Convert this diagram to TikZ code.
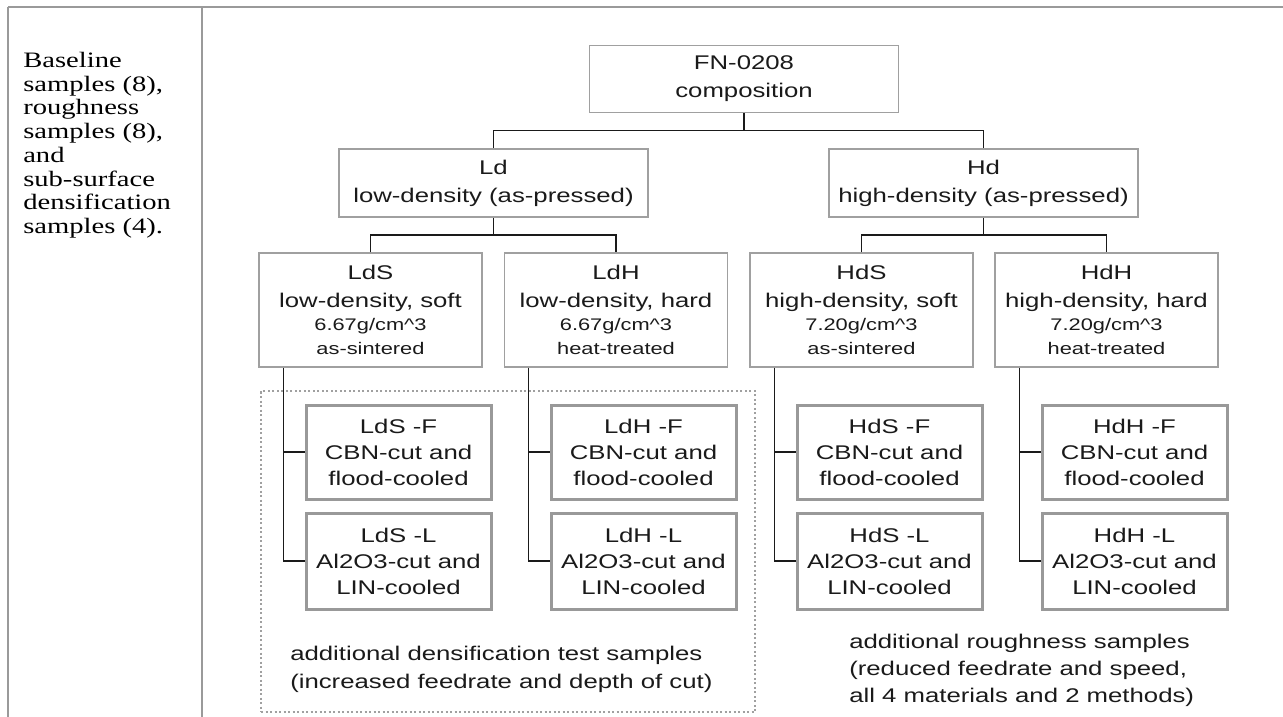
\documentclass[tikz,border=0pt]{standalone}
\usepackage{fontspec}
\usetikzlibrary{calc}
\newfontfamily\diagf[FakeStretch=1.3]{Liberation Sans}
\newfontfamily\leftf[FakeStretch=1.3]{Liberation Serif}
\newdimen\pxu \pxu=0.75pt
\definecolor{boxgray}{HTML}{A0A0A0}
\definecolor{subgray}{HTML}{999999}
\definecolor{rulegray}{HTML}{9A9A9A}
\definecolor{inkc}{HTML}{1A1A1A}
\newcommand{\smallf}{\diagf\fontsize{12.6pt}{18pt}\selectfont}
\begin{document}
\begin{tikzpicture}[x=0.75pt,y=-0.75pt,
  rule/.style={draw=rulegray, line width=2\pxu},
  conn/.style={draw=inkc, line width=1.5\pxu},
  mainbox/.style={draw=boxgray, line width=1.5\pxu, inner sep=0, align=center, text=inkc,
    font=\diagf\fontsize{14.85pt}{21pt}\selectfont},
  topbox/.style={mainbox, minimum width=309\pxu, minimum height=67\pxu},
  matbox/.style={mainbox, minimum width=223\pxu, minimum height=114\pxu,
    font=\diagf\fontsize{14.85pt}{20.25pt}\selectfont},
  subbox/.style={draw=subgray, line width=3\pxu, inner sep=0, align=center, text=inkc,
    minimum width=185\pxu, font=\diagf\fontsize{14.85pt}{19.5pt}\selectfont},
  dotbox/.style={draw=boxgray, line width=2\pxu, dash pattern=on 2\pxu off 2.5\pxu},
  note/.style={inner sep=0, align=left, text=inkc},
]
\useasboundingbox (0,0) rectangle (1283,717);
% outer table rules
\draw[rule] (8,7.5) -- (1283,7.5);
\draw[rule] (8,7.5) -- (8,717);
\draw[rule] (202,7.5) -- (202,717);

% left cell text
\node[note, anchor=north west, text=black, font=\leftf\fontsize{16.5pt}{17.8pt}\selectfont] (cell) at (23,52)
  {Baseline\\samples (8),\\roughness\\samples (8),\\and\\sub-surface\\densification\\samples (4).};

% tree
\node[topbox] (fn) at (744,79) {FN-0208\\composition};
\node[topbox, minimum height=68\pxu] (ld) at (493.5,183) {Ld\\low-density (as-pressed)};
\node[topbox, minimum height=68\pxu] (hd) at (983.5,183) {Hd\\high-density (as-pressed)};

\node[matbox] (lds) at (370.5,310) {LdS\\[1\pxu]low-density, soft\\[-4\pxu]{\smallf 6.67g/cm\textasciicircum 3}\\[-3\pxu]{\smallf as-sintered}};
\node[matbox] (ldh) at (616,310) {LdH\\[1\pxu]low-density, hard\\[-4\pxu]{\smallf 6.67g/cm\textasciicircum 3}\\[-3\pxu]{\smallf heat-treated}};
\node[matbox] (hds) at (861.5,310) {HdS\\[1\pxu]high-density, soft\\[-4\pxu]{\smallf 7.20g/cm\textasciicircum 3}\\[-3\pxu]{\smallf as-sintered}};
\node[matbox] (hdh) at (1106.5,310) {HdH\\[1\pxu]high-density, hard\\[-4\pxu]{\smallf 7.20g/cm\textasciicircum 3}\\[-3\pxu]{\smallf heat-treated}};

% dotted group
\node[dotbox, minimum width=494\pxu, minimum height=321\pxu, inner sep=0] (dens) at (508,551.5) {};

\foreach \n/\t/\x in {lds/LdS/398.5, ldh/LdH/643.5, hds/HdS/889.5, hdh/HdH/1134.5}{
  \node[subbox, minimum height=94\pxu] (\n F) at (\x,452) {\t\ -F\\CBN-cut and\\flood-cooled};
  \node[subbox, minimum height=96\pxu] (\n L) at (\x,561) {\t\ -L\\Al2O3-cut and\\LIN-cooled};
  \coordinate (\n V) at ($(\n L.west)+(-21,0)$);
  \draw[conn] (\n.south -| \n V) -- (\n V) -- (\n L.west);
  \draw[conn] (\n F.west -| \n V) -- (\n F.west);
}

% connectors
\path (fn.south) -- coordinate[pos=0.5] (fnbus) (fn.south |- ld.north);
\draw[conn] (fn.south) -- (fnbus);
\draw[conn] (ld.north) |- (fnbus) -| (hd.north);
\path (ld.south) -- coordinate[pos=0.5] (ldbus) (ld.south |- lds.north);
\draw[conn] (ld.south) -- (ldbus);
\draw[conn] (lds.north) |- (ldbus) -| (ldh.north);
\path (hd.south) -- coordinate[pos=0.5] (hdbus) (hd.south |- hds.north);
\draw[conn] (hd.south) -- (hdbus);
\draw[conn] (hds.north) |- (hdbus) -| (hdh.north);

% notes
\node[note, anchor=west, font=\diagf\fontsize{14.85pt}{21pt}\selectfont] (denstxt) at (290,669)
  {additional densification test samples\\(increased feedrate and depth of cut)};
\node[note, anchor=west, font=\diagf\fontsize{14.85pt}{20.25pt}\selectfont] (roughtxt) at (849,670)
  {additional roughness samples\\(reduced feedrate and speed,\\all 4 materials and 2 methods)};
\end{tikzpicture}
\end{document}
